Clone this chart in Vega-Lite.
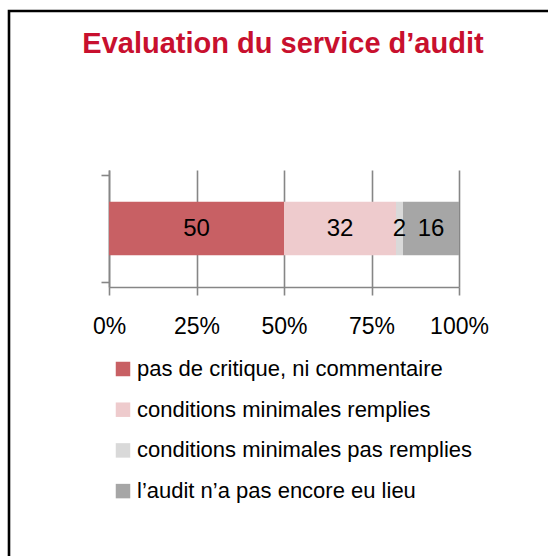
{
  "$schema": "https://vega.github.io/schema/vega-lite/v6.json",
  "width": 548,
  "height": 556,
  "padding": {"left": 9, "top": 11, "right": 0, "bottom": 0},
  "autosize": {"type": "pad"},
  "background": "white",
  "title": {
    "text": "Evaluation du service d’audit",
    "anchor": "middle",
    "frame": "group",
    "orient": "top",
    "baseline": "alphabetic",
    "offset": -71,
    "font": "Liberation Sans, Arial, sans-serif",
    "fontWeight": "bold",
    "fontSize": 29,
    "color": "#C8102E"
  },
  "config": {
    "view": {"stroke": "black", "strokeWidth": 2.6},
    "axis": {
      "labelFont": "Liberation Sans, Arial, sans-serif",
      "labelColor": "black",
      "domainColor": "#868686",
      "domainWidth": 1.6,
      "tickColor": "#868686",
      "tickWidth": 1.6,
      "gridColor": "#868686",
      "gridWidth": 1.6,
      "gridOpacity": 1
    },
    "legend": {
      "labelFont": "Liberation Sans, Arial, sans-serif",
      "labelColor": "black"
    }
  },
  "data": {
    "values": [
      {"categorie": "pas de critique, ni commentaire", "valeur": 50, "rang": 1},
      {"categorie": "conditions minimales remplies", "valeur": 32, "rang": 2},
      {"categorie": "conditions minimales pas remplies", "valeur": 2, "rang": 3},
      {"categorie": "l’audit n’a pas encore eu lieu", "valeur": 16, "rang": 4}
    ]
  },
  "encoding": {
    "order": {"field": "rang", "type": "quantitative"}
  },
  "resolve": {"axis": {"x": "independent"}},
  "layer": [
    {
      "mark": {"type": "bar", "orient": "horizontal"},
      "encoding": {
        "x": {
          "field": "valeur",
          "type": "quantitative",
          "aggregate": "sum",
          "stack": "normalize",
          "scale": {"domain": [0, 1], "range": [100, 450], "nice": false},
          "axis": {
            "orient": "bottom",
            "offset": -280,
            "values": [0, 0.25, 0.5, 0.75, 1],
            "format": ".0%",
            "title": null,
            "grid": false,
            "tickSize": 8,
            "labelFontSize": 23,
            "labelPadding": 20,
            "labelFlush": false,
            "labelOverlap": false
          }
        },
        "y": {
          "datum": 0.25,
          "type": "quantitative",
          "scale": {"domain": [0, 1], "range": [276, 159], "nice": false, "zero": false},
          "axis": {
            "orient": "left",
            "offset": -100,
            "values": [0, 1],
            "labels": false,
            "grid": false,
            "tickSize": 8,
            "title": null
          }
        },
        "y2": {"datum": 0.75},
        "color": {
          "field": "categorie",
          "type": "nominal",
          "sort": [
            "pas de critique, ni commentaire",
            "conditions minimales remplies",
            "conditions minimales pas remplies",
            "l’audit n’a pas encore eu lieu"
          ],
          "scale": {
            "domain": [
              "pas de critique, ni commentaire",
              "conditions minimales remplies",
              "conditions minimales pas remplies",
              "l’audit n’a pas encore eu lieu"
            ],
            "range": ["#C86064", "#EECBCD", "#D9D9D9", "#A6A6A6"]
          },
          "legend": {
            "orient": "none",
            "legendX": 103,
            "legendY": 347,
            "padding": 0,
            "direction": "vertical",
            "title": null,
            "symbolType": "square",
            "symbolSize": 210,
            "symbolStrokeWidth": 0,
            "labelFontSize": 22,
            "labelOffset": 3,
            "rowPadding": 18.7,
            "labelLimit": 500
          }
        }
      }
    },
    {
      "mark": {
        "type": "text",
        "font": "Liberation Sans, Arial, sans-serif",
        "fontSize": 24,
        "color": "black",
        "baseline": "middle",
        "align": "center"
      },
      "encoding": {
        "x": {
          "field": "valeur",
          "type": "quantitative",
          "aggregate": "sum",
          "stack": "normalize",
          "bandPosition": 0.5,
          "axis": {
            "orient": "top",
            "values": [0, 0.25, 0.5, 0.75, 1],
            "grid": true,
            "labels": false,
            "ticks": false,
            "domain": false,
            "title": null
          }
        },
        "y": {"datum": 0.5, "type": "quantitative"},
        "text": {"field": "valeur", "type": "quantitative", "aggregate": "sum"}
      }
    }
  ]
}
